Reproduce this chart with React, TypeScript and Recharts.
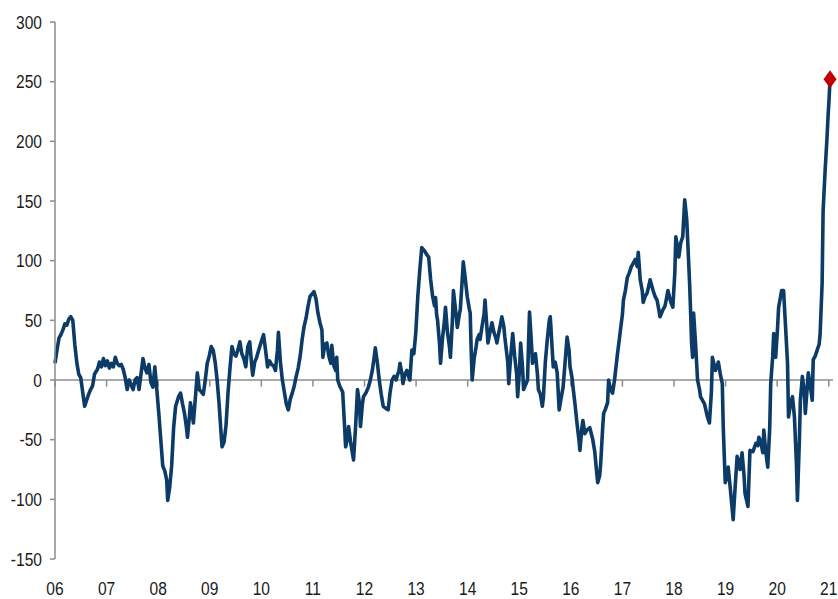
import React from "react";
import {
  ComposedChart, Line, XAxis, YAxis, ReferenceLine, ReferenceDot,
} from "recharts";

// weekly index since start of 2006 (irregular sampling of the original weekly series)
const weeks = [
  0, 2, 4, 6, 8, 10, 12, 14, 16, 18, 20, 22, 24, 26, 28, 30, 32, 34, 36, 38, 40,
  43, 45, 47, 49, 51, 53, 55, 57, 59, 61, 63, 65, 67, 69, 71, 73, 75, 77, 79, 81, 83, 85, 87, 89, 91, 93, 95, 97, 99, 101, 103, 105, 107, 109, 111, 113, 114, 116, 118, 120, 122,
  125, 127, 129, 131, 133, 134, 136, 137, 139, 140, 142, 144, 146, 148, 150, 152, 154, 156, 158, 160, 162, 164, 166, 168, 169, 171, 173, 175, 177, 179, 181, 183, 185, 187, 189, 191, 193, 195, 197, 199, 200, 202, 204, 206,
  209, 211, 213, 215, 217, 219, 221, 223, 225, 226, 228, 230, 232, 234, 236, 238, 240, 242, 244, 246, 248, 250, 252, 254, 256, 258, 260, 262, 264, 266, 268, 270, 271, 273, 275, 277, 279, 280, 282, 284, 285, 286, 288,
  291, 293, 294, 296, 297, 299, 301, 302, 304, 306, 308, 309, 311, 312, 315, 317, 319, 321, 323, 324, 326, 328, 330, 332, 335, 337, 339, 341, 343, 345, 346, 348, 349, 351, 352, 354, 356, 358, 359, 361, 363, 365, 367, 369, 371,
  374, 376, 378, 380, 382, 384, 385, 386, 387, 389, 390, 392, 394, 395, 397, 399, 400, 402, 403, 405, 407, 409, 410, 412, 413, 415, 417, 419, 420, 421, 422, 424, 426, 427, 429, 430, 432, 434, 435, 436, 438, 440, 442, 444, 446, 447, 449, 451, 452, 454, 455,
  458, 459, 461, 463, 465, 467, 468, 470, 471, 473, 474, 476, 478, 479, 480, 482, 483, 485, 486, 488, 489, 491, 493, 494, 496, 498, 500, 501, 503, 504, 506, 508, 510, 512, 514, 516, 518, 520, 521, 523, 524, 526, 528, 530, 531, 533, 534, 536, 538,
  541, 544, 546, 548, 549, 551, 552, 554, 555, 557, 559, 560, 562, 564, 566, 569, 571, 572, 574, 575, 577, 579, 581, 583, 585, 587, 589, 590, 592, 594, 595, 597, 599, 601, 602, 604, 605, 607, 609, 611, 612, 614, 615, 617, 619, 620,
  623, 625, 627, 628, 630, 631, 633, 635, 637, 639, 640, 642, 643, 644, 645, 646, 648, 650, 652, 653, 655, 657, 660, 662, 664, 665, 667, 668, 670, 671, 673, 675, 676, 678, 680, 681, 683, 686, 688, 690, 692, 693, 695, 697, 698, 701, 703,
  706, 709, 711, 712, 714, 716, 717, 719, 721, 723, 724, 726, 727, 729, 731, 732, 734, 735, 737, 739, 741, 742, 744, 746, 748, 750, 751, 753, 754, 756, 758, 759, 761, 762, 764, 766, 767, 769, 771, 773, 774, 775, 776, 777, 779, 781, 782, 783, 784,
];

const values = [
  14, 25, 35, 38, 42, 47, 46, 51, 53, 50, 30, 15, 5, 2, -10, -22, -17, -12, -8, -5, 5,
  9, 15, 11, 18, 12, 16, 10, 14, 11, 19, 14, 12, 13, 9, 2, -8, 0, -4, -8, 0, 2, -8, 5, 18, 10, 6, 13, -2, -6, 11, -8, -28, -50, -72, -76, -84, -101, -90, -72, -40, -22,
  -14, -11, -20, -28, -40, -48, -30, -19, -30, -36, -15, 6, -8, -10, -12, 0, 14, 20, 28, 25, 15, 0, -20, -45, -56, -52, -38, -11, 10, 28, 22, 20, 25, 32, 22, 18, 11, 28, 32, 12, 4, 15, 19, 25,
  33, 38, 25, 11, 16, 13, 12, 8, 25, 40, 15, 0, -10, -20, -25, -16, -11, -5, 3, 10, 20, 34, 45, 52, 62, 70, 72, 74, 68, 56, 48, 42, 19, 30, 31, 20, 14, 29, 12, 8, 19, 0, -5,
  -10, -40, -56, -48, -39, -52, -62, -67, -40, -8, -20, -39, -20, -14, -10, -6, 0, 8, 20, 27, 15, 0, -12, -22, -24, -25, -10, 0, 3, 0, 3, 8, 14, 5, -3, 5, 8, 2, 0, 25, 22, 40, 70, 92, 111,
  108, 105, 103, 84, 70, 62, 69, 55, 50, 30, 14, 35, 50, 61, 40, 28, 19, 50, 75, 60, 44, 55, 59, 85, 99, 85, 70, 60, 56, 25, 0, 18, 28, 34, 38, 34, 45, 55, 67, 55, 31, 40, 48, 40, 35, 31, 40, 48, 53, 45, 36,
  15, -3, 20, 39, 20, 5, -14, 10, 31, 10, -8, -4, 0, 30, 57, 30, 14, 20, 22, 5, -8, -12, -22, -15, 15, 34, 50, 53, 25, 11, 15, 6, -25, -15, -6, 15, 36, 25, 11, 2, -6, -20, -36, -50, -59, -40, -34, -45, -42,
  -40, -50, -60, -78, -86, -80, -70, -40, -28, -24, -19, 0, -8, -11, 0, 22, 35, 42, 55, 67, 75, 86, 90, 95, 98, 101, 95, 107, 84, 75, 65, 70, 73, 80, 84, 78, 75, 70, 67, 58, 53, 57, 59, 62, 70, 75,
  65, 61, 90, 120, 110, 103, 115, 120, 151, 135, 117, 80, 56, 30, 19, 56, 30, 0, -8, -14, -17, -20, -31, -36, -10, 19, 12, 8, 12, 15, 5, -3, -40, -86, -80, -73, -90, -117, -90, -64, -70, -75, -61, -80, -95, -106, -59,
  -60, -53, -55, -48, -52, -61, -42, -60, -73, -40, -3, 20, 39, 19, 45, 61, 70, 75, 75, 45, 14, -31, -20, -14, -31, -70, -101, -50, -17, 3, -10, -28, -5, 6, -5, -17, 17, 20, 25, 30, 39, 60, 81, 142, 175, 204, 221, 235, 252,
];

const yearLabels = ["06", "07", "08", "09", "10", "11", "12", "13", "14", "15", "16", "17", "18", "19", "20", "21"];
const yTicks = [-150, -100, -50, 0, 50, 100, 150, 200, 250, 300];

const WEEKS_PER_YEAR = 52.18;
const yearTicks = yearLabels.map((_, i) => i * WEEKS_PER_YEAR);
const data = weeks.map((w, i) => ({ week: w, value: values[i] }));
const lastWeek = weeks[weeks.length - 1];
const lastValue = values[values.length - 1];

const AXIS_GREY = "#8c8c8c";

// no narrow font installed -> squeeze Liberation Sans horizontally
function NarrowText({ x, y, anchor, dy, label }: any) {
  return (
    <g transform={`translate(${x},${y})`}>
      <text
        transform="scale(0.82,1)" textAnchor={anchor} dy={dy}
        fontSize={19} fill="#1a1a1a" fontFamily="'Liberation Sans', Arial, sans-serif"
      >
        {label}
      </text>
    </g>
  );
}

function YearTick(props: any) {
  const { x, y, payload } = props;
  const label = yearLabels[Math.round(payload.value / WEEKS_PER_YEAR)];
  return <NarrowText x={x} y={y} anchor="middle" dy="0.71em" label={label} />;
}

function ValueTick(props: any) {
  const { x, y, payload } = props;
  return <NarrowText x={x} y={y} anchor="end" dy="0.355em" label={payload.value} />;
}

function Diamond(props: any) {
  const { cx, cy } = props;
  return (
    <polygon
      points={`${cx},${cy - 9} ${cx + 6.5},${cy} ${cx},${cy + 9} ${cx - 6.5},${cy}`}
      fill="#C00000"
    />
  );
}

export default function App() {
  return (
    <>
      <style>{"body { margin: 0; }"}</style>
      <div style={{ width: 838, height: 599 }}>
        <ComposedChart
          width={838}
          height={599}
          data={data}
          margin={{ top: 22, right: 5, bottom: 0, left: 0 }}
        >
          <XAxis
            dataKey="week" type="number" domain={[0, 787]} ticks={yearTicks}
            axisLine={false} tickLine={false} tickSize={0} tickMargin={23}
            height={40} tick={<YearTick />} interval={0}
          />
          <YAxis
            type="number" domain={[-150, 300]} ticks={yTicks} interval={0}
            width={55} tick={<ValueTick />} tickSize={5} tickMargin={8}
            axisLine={{ stroke: AXIS_GREY, strokeWidth: 1.5 }}
            tickLine={{ stroke: AXIS_GREY, strokeWidth: 1.5 }}
          />
          <ReferenceLine y={0} stroke={AXIS_GREY} strokeWidth={1.5} />
          {yearTicks.map((t) => (
            <ReferenceLine
              key={t}
              segment={[{ x: t, y: 0 }, { x: t, y: -5.5 }]}
              stroke={AXIS_GREY} strokeWidth={1.5}
            />
          ))}
          <Line
            type="linear" dataKey="value" stroke="#0B3B66" strokeWidth={3.6}
            dot={false} activeDot={false} isAnimationActive={false}
            strokeLinejoin="round"
          />
          <ReferenceDot x={lastWeek} y={lastValue} shape={Diamond} />
        </ComposedChart>
      </div>
    </>
  );
}
